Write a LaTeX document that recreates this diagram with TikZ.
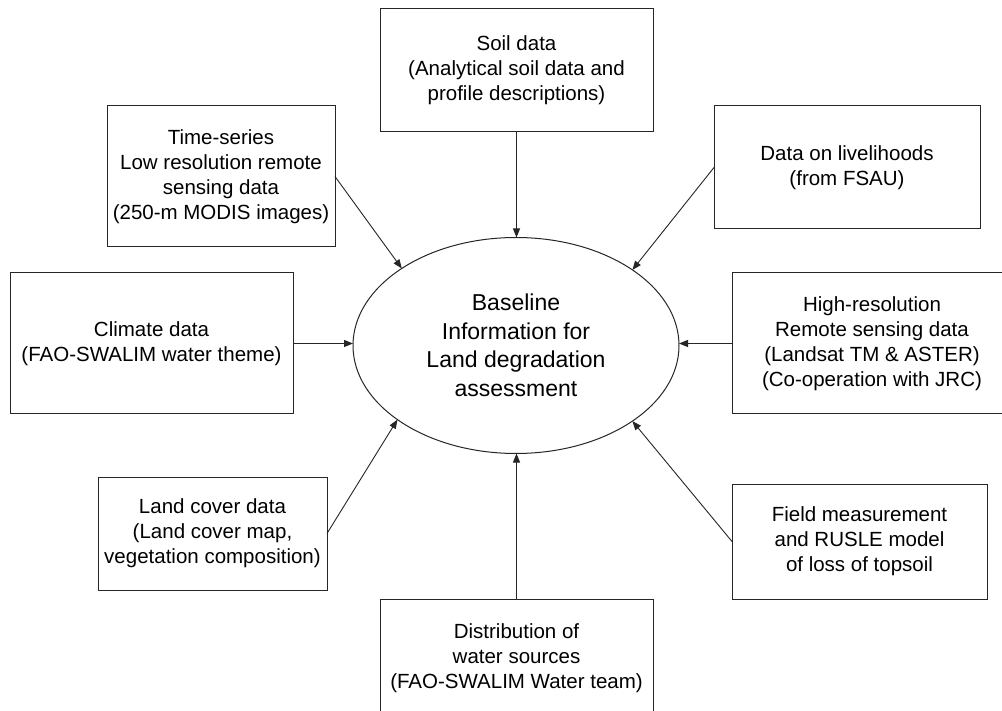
\documentclass[tikz,border=0pt]{standalone}
\usepackage{fontspec}
\setmainfont{Liberation Sans}
\usetikzlibrary{arrows.meta,shapes.geometric}
\tikzset{
  box/.style={draw=black!85, line width=1pt, rectangle, inner sep=0pt, outer sep=0pt,
    align=center, font=\fontsize{20.5}{25}\selectfont},
  hub/.style={draw=black!85, line width=1pt, ellipse, inner sep=0pt, outer sep=0pt,
    minimum width=326pt, minimum height=216pt, align=center,
    font=\fontsize{23}{28.5}\selectfont},
  feed/.style={draw=black!85, line width=0.9pt, -{Triangle[length=9pt,width=7pt]}}
}
\begin{document}
\begin{tikzpicture}[x=1pt,y=-1pt]
\clip (0,0) rectangle (1002,711);
\useasboundingbox (0,0) rectangle (1002,711);
\fill[white] (0,0) rectangle (1002,711);

\node[hub] (el) at (516,345.5) {Baseline\\Information for\\Land degradation\\assessment};

\node[box, minimum width=273pt, minimum height=123pt] (soil) at (516.5,70.5)
  {Soil data\\(Analytical soil data and\\profile descriptions)};
\node[box, minimum width=228pt, minimum height=141pt] (ts) at (221,176.5)
  {Time-series\\Low resolution remote\\sensing data\\(250-m MODIS images)};
\node[box, minimum width=266pt, minimum height=123pt] (lv) at (847,167.5)
  {Data on livelihoods\\(from FSAU)};
\node[box, minimum width=283pt, minimum height=141pt] (cl) at (151.5,343.5)
  {Climate data\\(FAO-SWALIM water theme)};
\node[box, minimum width=280pt, minimum height=141pt] (hr) at (872,343.5)
  {High-resolution\\Remote sensing data\\(Landsat TM \& ASTER)\\(Co-operation with JRC)};
\node[box, minimum width=229pt, minimum height=113pt] (lc) at (212.5,533.5)
  {Land cover data\\(Land cover map,\\vegetation composition)};
\node[box, minimum width=255pt, minimum height=115pt] (fm) at (859.5,541.5)
  {Field measurement\\and RUSLE model\\of loss of topsoil};
\node[box, minimum width=273pt, minimum height=118pt] (ds) at (516.5,658)
  {Distribution of\\water sources\\(FAO-SWALIM Water team)};

\draw[feed] (soil.south) -- (soil.south |- el.north);
\draw[feed] (ds.north) -- (ds.north |- el.south);
\draw[feed] (cl.east) -- (cl.east -| el.west);
\draw[feed] (hr.west) -- (hr.west -| el.east);
\draw[feed] (ts.east) -- (el.146.7);
\draw[feed] (lv.west) -- (el.33.3);
\draw[feed] (lc.east) -- (el.212.4);
\draw[feed] (fm.west) -- (el.327.9);
\end{tikzpicture}
\end{document}
